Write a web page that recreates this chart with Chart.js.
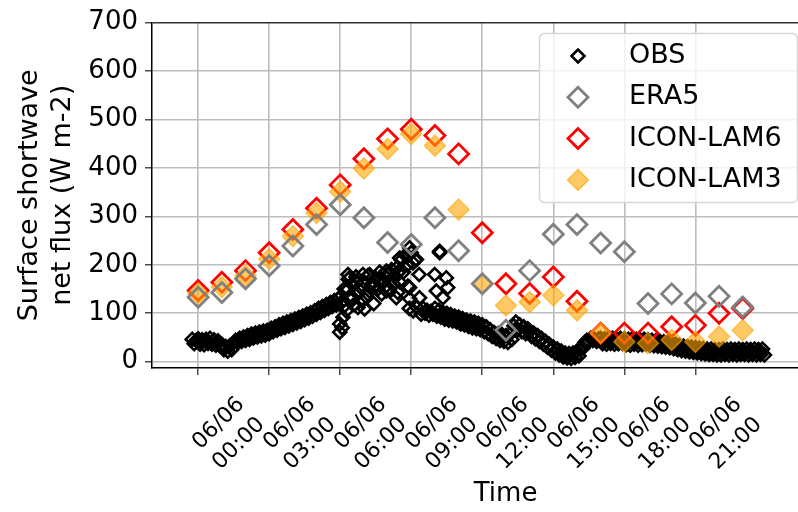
<!DOCTYPE html>
<html>
<head>
<meta charset="utf-8">
<script src="https://cdn.jsdelivr.net/npm/chart.js@4.4.1/dist/chart.umd.min.js"></script>
<style>
  html, body { margin: 0; padding: 0; background: #fff; overflow: hidden; }
  #view { width: 798px; height: 512px; overflow: hidden; }
</style>
</head>
<body>
<div id="view"><canvas id="fluxChart" width="872" height="512"></canvas></div>
<script>
// hourly model output, 06/06 00:00 .. 23:00
const modelHours = [0, 1, 2, 3, 4, 5, 6, 7, 8, 9, 10, 11, 12, 13, 14, 15, 16, 17, 18, 19, 20, 21, 22, 23];
const era5Flux = [133, 143, 171, 198, 239, 283, 324, 297, 246, 242, 297, 229, 161, 65, 188, 263, 283, 245, 227, 120, 140, 121, 135, 113];
const lam6Flux = [147, 164, 188, 225, 273, 317, 365, 419, 460, 480, 467, 429, 266, 161, 141, 175, 125, 59, 59, 59, 72, 75, 100, 110];
const lam3Flux = [141, 154, 178, 212, 259, 307, 351, 399, 439, 470, 446, 314, 161, 116, 123, 137, 106, 59, 41, 38, 45, 41, 52, 65];

// observations every 5 minutes from 05/06 23:45 (one row per hour)
const obsStartHour = -0.25;
const obsStepHours = 1 / 12;
const obsFlux = [
  46, 37, 44,
  47, 36, 45, 35, 46, 38, 48, 36, 45, 34, 43, 33,
  36, 25, 31, 22, 33, 25, 39, 44, 40, 48, 42, 51,
  44, 54, 46, 57, 49, 59, 51, 61, 53, 63, 55, 65,
  58, 69, 62, 72, 65, 76, 68, 79, 71, 82, 74, 85,
  77, 88, 80, 91, 83, 94, 87, 98, 90, 101, 94, 105,
  98, 110, 102, 114, 106, 118, 110, 122, 114, 126, 117, 130,
  120, 70, 150, 105, 170, 130, 160, 118, 175, 140, 155, 125,
  165, 135, 178, 145, 160, 120, 172, 150, 185, 140, 168, 155,
  180, 150, 190, 160, 175, 195, 165, 210, 185, 220, 200, 110,
  225, 105, 210, 112, 180, 98, 110, 100, 106, 96, 104, 98,
  110, 94, 106, 92, 102, 88, 100, 86, 97, 84, 94, 82,
  92, 78, 89, 76, 86, 73, 84, 70, 82, 68, 79, 66,
  76, 62, 72, 58, 66, 52, 60, 48, 58, 44, 56, 42,
  54, 40, 57, 46, 74, 82, 66, 76, 62, 72, 58, 68,
  64, 52, 59, 47, 54, 42, 48, 36, 42, 30, 36, 24,
  30, 18, 26, 14, 22, 10, 18, 8, 17, 7, 18, 9,
  22, 12, 28, 28, 40, 44, 42, 48, 44, 46, 42, 47,
  48, 37, 47, 36, 49, 38, 48, 36, 47, 37, 48, 38,
  47, 35, 46, 34, 47, 36, 46, 34, 45, 35, 46, 36,
  45, 34, 44, 33, 43, 32, 42, 31, 41, 30, 40, 29,
  38, 27, 36, 25, 34, 23, 32, 22, 31, 20, 30, 19,
  29, 18, 28, 17, 27, 16, 26, 15, 26, 15, 25, 14,
  25, 14, 26, 15, 25, 14, 26, 15, 25, 14, 26, 15,
  25, 15, 26, 14, 25, 15, 26, 14, 25, 15, 26, 14
];
// scattered observations around midday
const obsExtraHours = [5.98, 6.12, 5.98, 6.19, 6.26, 6.33, 6.26, 5.98, 6.40, 6.47, 6.54, 6.68, 6.75, 6.96, 7.03, 7.24, 7.38, 7.67, 7.81, 7.95, 7.95, 8.37, 8.43, 8.43, 8.51, 8.51, 8.85, 8.86, 8.93, 8.93, 8.93, 9.07, 9.22, 9.35, 9.99, 10.06, 10.20, 10.20, 10.34, 10.48, 10.54];
const obsExtraFlux = [61, 92, 78, 116, 153, 180, 146, 132, 173, 132, 132, 163, 112, 180, 109, 180, 153, 167, 180, 146, 187, 132, 184, 143, 187, 214, 218, 156, 235, 153, 130, 204, 211, 132, 180, 146, 225, 228, 132, 173, 153];

const tickHours = [0, 3, 6, 9, 12, 15, 18, 21];
const tickDate = '06/06';
const tickTimes = ['00:00', '03:00', '06:00', '09:00', '12:00', '15:00', '18:00', '21:00'];
const yTicks = [0, 100, 200, 300, 400, 500, 600, 700];

const FONT = 'DejaVu Sans';

const toPoints = (xs, ys) => ys.map((y, i) => ({ x: xs[i], y: y }));
const obsPoints = obsFlux
  .map((y, i) => ({ x: obsStartHour + i * obsStepHours, y: y }))
  .concat(toPoints(obsExtraHours, obsExtraFlux));

function diamond(ctx, x, y, r) {
  ctx.beginPath();
  ctx.moveTo(x - r, y);
  ctx.lineTo(x, y - r);
  ctx.lineTo(x + r, y);
  ctx.lineTo(x, y + r);
  ctx.closePath();
}

// matplotlib style legend box in the upper right
const legendBox = {
  id: 'legendBox',
  afterDraw(chart) {
    const ctx = chart.ctx;
    const x0 = 539.5, y0 = 33.5, w = 258, h = 169, rad = 5;
    ctx.save();
    ctx.beginPath();
    ctx.moveTo(x0 + rad, y0);
    ctx.arcTo(x0 + w, y0, x0 + w, y0 + h, rad);
    ctx.arcTo(x0 + w, y0 + h, x0, y0 + h, rad);
    ctx.arcTo(x0, y0 + h, x0, y0, rad);
    ctx.arcTo(x0, y0, x0 + w, y0, rad);
    ctx.closePath();
    ctx.fillStyle = 'rgba(255,255,255,0.8)';
    ctx.fill();
    ctx.strokeStyle = '#d6d6d6';
    ctx.lineWidth = 1.5;
    ctx.stroke();

    chart.data.datasets.forEach((ds, row) => {
      const cy = 56 + row * 41.3;
      diamond(ctx, 578, cy, ds.pointRadius);
      if (ds.fillMarker) {
        ctx.fillStyle = ds.pointBackgroundColor;
        ctx.fill();
      }
      ctx.lineWidth = ds.pointBorderWidth;
      ctx.strokeStyle = ds.pointBorderColor;
      ctx.stroke();
      ctx.fillStyle = '#000';
      ctx.font = '27px "' + FONT + '"';
      ctx.textBaseline = 'middle';
      ctx.textAlign = 'left';
      ctx.fillText(ds.label, 629, cy);
    });
    ctx.restore();
  }
};

const renderChart = () => {
  const ctx = document.getElementById('fluxChart').getContext('2d');
  new Chart(ctx, {
    type: 'scatter',
    data: {
      datasets: [
        {
          label: 'OBS',
          data: obsPoints,
          pointStyle: 'rectRot',
          pointRadius: 6.5,
          pointBorderWidth: 2.6,
          pointBorderColor: '#000000',
          pointBackgroundColor: 'rgba(0,0,0,0)',
          order: 3
        },
        {
          label: 'ERA5',
          data: toPoints(modelHours, era5Flux),
          pointStyle: 'rectRot',
          pointRadius: 10,
          pointBorderWidth: 2.8,
          pointBorderColor: '#808080',
          pointBackgroundColor: 'rgba(0,0,0,0)',
          order: 0
        },
        {
          label: 'ICON-LAM6',
          data: toPoints(modelHours, lam6Flux),
          pointStyle: 'rectRot',
          pointRadius: 10,
          pointBorderWidth: 2.8,
          pointBorderColor: '#ff0000',
          pointBackgroundColor: 'rgba(0,0,0,0)',
          order: 2
        },
        {
          label: 'ICON-LAM3',
          data: toPoints(modelHours, lam3Flux),
          pointStyle: 'rectRot',
          pointRadius: 10.5,
          pointBorderWidth: 1.5,
          pointBorderColor: 'rgba(255,165,0,0.6)',
          pointBackgroundColor: 'rgba(255,165,0,0.6)',
          fillMarker: true,
          order: 1
        }
      ]
    },
    options: {
      responsive: false,
      animation: false,
      events: [],
      layout: { padding: { top: 19, left: 0, right: 0, bottom: 0 } },
      plugins: {
        legend: { display: false },
        tooltip: { enabled: false }
      },
      scales: {
        x: {
          type: 'linear',
          min: -1.95,
          max: 27.92,
          afterBuildTicks: (scale) => { scale.ticks = tickHours.map(v => ({ value: v })); },
          afterFit: (scale) => {
            scale.height = 144;
            scale.paddingLeft = 0;
            scale.paddingRight = 0;
          },
          border: { color: '#000', width: 1.5 },
          grid: { color: '#bdbdbd', lineWidth: 1.6, tickColor: '#222', tickLength: 7, tickWidth: 1.2 },
          ticks: {
            autoSkip: false,
            minRotation: 45,
            maxRotation: 45,
            labelOffset: 43,
            padding: 16,
            color: '#000',
            font: { family: FONT, size: 22, lineHeight: 1.3 },
            callback: (v) => {
              const i = tickHours.indexOf(v);
              return i < 0 ? '' : [tickDate, tickTimes[i]];
            }
          },
          title: {
            display: true,
            text: 'Time',
            color: '#000',
            font: { family: FONT, size: 26 },
            padding: { top: 0, bottom: 2 }
          }
        },
        y: {
          min: -13,
          max: 700,
          afterBuildTicks: (scale) => { scale.ticks = yTicks.map(v => ({ value: v })); },
          afterFit: (scale) => { scale.width = 152; },
          border: { color: '#000', width: 1.5 },
          grid: {
            color: (c) => (c.tick && c.tick.value === 700 ? '#333' : '#bdbdbd'),
            lineWidth: 1.6,
            tickColor: '#222',
            tickLength: 7,
            tickWidth: 1.2
          },
          ticks: {
            padding: 7,
            color: '#000',
            font: { family: FONT, size: 26 }
          },
          title: {
            display: true,
            text: ['Surface shortwave', 'net flux (W m-2)'],
            color: '#000',
            font: { family: FONT, size: 27 },
            padding: { top: 14, bottom: 0 }
          }
        }
      }
    },
    plugins: [legendBox]
  });
};

document.addEventListener('DOMContentLoaded', renderChart);
</script>
</body>
</html>
